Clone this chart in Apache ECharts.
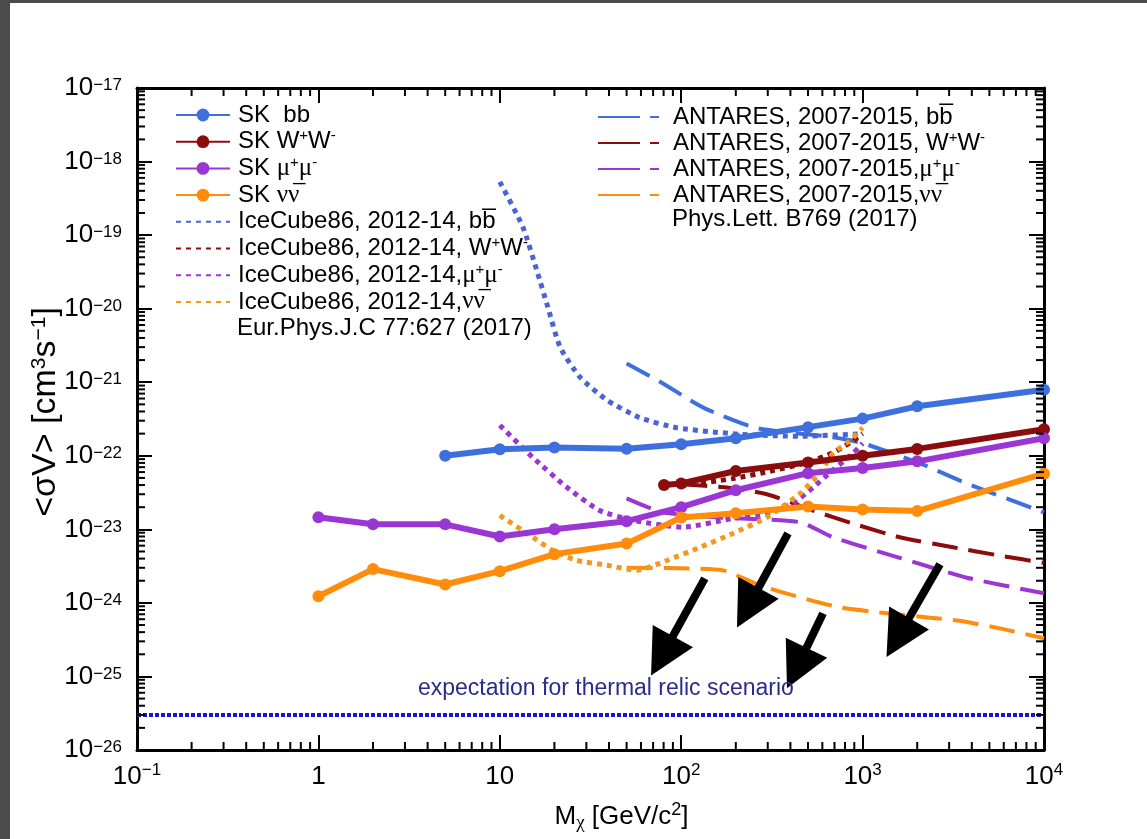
<!DOCTYPE html>
<html>
<head>
<meta charset="utf-8">
<script src="https://cdn.jsdelivr.net/npm/echarts@6/dist/echarts.min.js"></script>
<style>
  html, body { margin: 0; padding: 0; width: 1147px; height: 839px; overflow: hidden; background: #4b4b4b; }
  #chart { position: absolute; left: 10px; top: 3px; width: 1137px; height: 836px; background: #ffffff; }
</style>
</head>
<body>
<div id="chart"></div>
<script>
// Upper limits on the dark-matter annihilation cross section <σV> versus WIMP mass.

const X_MIN = 0.1, X_MAX = 1e4;
// lower bound nudged a hair under 1e-26 so the 10^-26 decade tick is generated
const Y_MIN = 0.99999e-26, Y_MAX = 1e-17;

// Super-Kamiokande (solid lines with markers)
const skBbMass    = [5, 10, 20, 50, 100, 200, 500, 1000, 2000, 10000];
const skBbSigmaV  = [1.0e-22, 1.23e-22, 1.3e-22, 1.25e-22, 1.43e-22, 1.73e-22, 2.45e-22, 3.2e-22, 4.7e-22, 7.9e-22];
const skWwMass    = [80.4, 100, 200, 500, 1000, 2000, 10000];
const skWwSigmaV  = [4.0e-23, 4.2e-23, 6.2e-23, 8.1e-23, 1.0e-22, 1.24e-22, 2.3e-22];
const skMuMass    = [1, 2, 5, 10, 20, 50, 100, 200, 500, 1000, 2000, 10000];
const skMuSigmaV  = [1.46e-23, 1.17e-23, 1.17e-23, 8.0e-24, 1.0e-23, 1.29e-23, 2.0e-23, 3.4e-23, 5.8e-23, 6.8e-23, 8.4e-23, 1.73e-22];
const skNuMass    = [1, 2, 5, 10, 20, 50, 100, 200, 500, 1000, 2000, 10000];
const skNuSigmaV  = [1.23e-24, 2.88e-24, 1.78e-24, 2.7e-24, 4.6e-24, 6.4e-24, 1.45e-23, 1.65e-23, 2.05e-23, 1.86e-23, 1.77e-23, 5.7e-23];

// IceCube86, 2012-14 (dotted lines)
const icBbMass    = [10, 13.4, 16, 18.4, 21.5, 27.7, 39, 59, 95, 211, 452, 1000];
const icBbSigmaV  = [5.3e-19, 1.29e-19, 3.3e-20, 1.05e-20, 3.0e-21, 1.17e-21, 5.7e-22, 3.3e-22, 2.4e-22, 1.96e-22, 1.84e-22, 2.0e-22];
const icWwMass    = [100, 193, 321, 494, 687, 850, 1000];
const icWwSigmaV  = [3.9e-23, 4.9e-23, 6.3e-23, 8.1e-23, 1.1e-22, 1.5e-22, 2.0e-22];
const icMuMass    = [10, 15.2, 23.5, 35.6, 54, 102, 193, 297, 413, 533, 687, 885, 1000];
const icMuSigmaV  = [2.6e-22, 9.5e-23, 3.7e-23, 1.8e-23, 1.33e-23, 1.07e-23, 1.41e-23, 1.65e-23, 2.26e-23, 3.7e-23, 6.4e-23, 1.08e-22, 1.48e-22];
const icNuMass    = [10, 15.2, 19.5, 26.4, 39, 57, 84, 127, 193, 297, 454, 580, 687, 850, 1000];
const icNuSigmaV  = [1.55e-23, 7.8e-24, 5.2e-24, 3.8e-24, 3.25e-24, 2.77e-24, 3.8e-24, 5.7e-24, 8.8e-24, 1.46e-23, 3.1e-23, 5.8e-23, 1.08e-22, 1.6e-22, 2.4e-22];

// ANTARES, 2007-2015 (dashed lines)
const anBbMass    = [50, 79, 112, 144, 262, 687, 1005, 2070, 3760, 10000];
const anBbSigmaV  = [1.8e-21, 9.7e-22, 5.7e-22, 4.1e-22, 2.37e-22, 1.79e-22, 1.48e-22, 7.9e-23, 4.2e-23, 1.7e-23];
const anWwMass    = [100, 179, 297, 533, 885, 1600, 3150, 5700, 10000];
const anWwSigmaV  = [4.1e-23, 3.7e-23, 3.0e-23, 1.8e-23, 1.2e-23, 7.8e-24, 5.7e-24, 4.4e-24, 3.5e-24];
const anMuMass    = [50, 79, 163, 452, 687, 1600, 3760, 10000];
const anMuSigmaV  = [2.64e-23, 1.7e-23, 1.45e-23, 1.25e-23, 7.8e-24, 4.1e-24, 2.2e-24, 1.35e-24];
const anNuMass    = [50, 99, 170, 272, 452, 750, 1250, 2350, 3440, 5700, 10000];
const anNuSigmaV  = [3.0e-24, 2.95e-24, 2.77e-24, 1.73e-24, 1.19e-24, 8.7e-25, 7.4e-25, 6.3e-25, 5.7e-25, 4.5e-25, 3.3e-25];

// Thermal relic expectation
const relicSigmaV = 3.0e-26;

// Annotation arrows: tail and tip in (mass, <σV>) space
const arrowTail = [[135, 2.15e-24], [388, 8.8e-24], [605, 7.2e-25], [2671, 3.34e-24]];
const arrowTip  = [[68.2, 1.03e-25], [203, 4.64e-25], [383, 6.9e-26], [1355, 1.84e-25]];

// Legend entries (series name, rich-text label)
const leftLegendNames  = ['SK bb', 'SK WW', 'SK mumu', 'SK nunu', 'IceCube bb', 'IceCube WW', 'IceCube mumu', 'IceCube nunu'];
const rightLegendNames = ['ANTARES bb', 'ANTARES WW', 'ANTARES mumu', 'ANTARES nunu'];
const legendLabels = {
  'SK bb':        'SK  bb',
  'SK WW':        'SK W{sp|+}W{sp|-}',
  'SK mumu':      'SK {gk|μ}{sp|+}{gk|μ}{sp|-}',
  'SK nunu':      'SK {gk|ν\u03BD\u0305}',
  'IceCube bb':   'IceCube86, 2012-14, bb\u0305',
  'IceCube WW':   'IceCube86, 2012-14, W{sp|+}W{sp|-}',
  'IceCube mumu': 'IceCube86, 2012-14,{gk|μ}{sp|+}{gk|μ}{sp|-}',
  'IceCube nunu': 'IceCube86, 2012-14,{gk|ν\u03BD\u0305}',
  'ANTARES bb':   'ANTARES, 2007-2015, bb\u0305',
  'ANTARES WW':   'ANTARES, 2007-2015, W{sp|+}W{sp|-}',
  'ANTARES mumu': 'ANTARES, 2007-2015,{gk|μ}{sp|+}{gk|μ}{sp|-}',
  'ANTARES nunu': 'ANTARES, 2007-2015,{gk|ν\u03BD\u0305}'
};
const leftCitation  = 'Eur.Phys.J.C 77:627 (2017)';
const rightCitation = 'Phys.Lett. B769 (2017)';
const relicText     = 'expectation for thermal relic scenario';
const yTitle        = '<σV> [cm{sup|3}s{sup|\u22121}]';
const xTitle        = 'M{sub|χ} [GeV/c{sup|2}]';

const FONT  = '"Liberation Sans", Arial, Helvetica, sans-serif';
const SERIF = '"Liberation Serif", "DejaVu Serif", serif';

const BLUE = '#3d6fde', RED = '#8a0c0c', PURPLE = '#9a36d4', ORANGE = '#ff8c0a';
const BLUE_DOT = '#4a63d6', ORANGE_DOT = '#f39a1e';

const zip = (xs, ys) => xs.map((x, i) => [x, ys[i]]);

function skSeries(name, mass, sv, color) {
  return {
    name, type: 'line', data: zip(mass, sv), z: 6,
    symbol: 'circle', symbolSize: 12, showSymbol: true,
    lineStyle: { color, width: 6 }, itemStyle: { color }
  };
}
function dottedSeries(name, mass, sv, color) {
  return {
    name, type: 'line', data: zip(mass, sv), z: 4, smooth: 0.2,
    symbol: 'none', lineStyle: { color, width: 5, type: [5, 5], cap: 'butt' }, itemStyle: { color }
  };
}
function dashedSeries(name, mass, sv, color) {
  return {
    name, type: 'line', data: zip(mass, sv), z: 3, smooth: 0.2,
    symbol: 'none', lineStyle: { color, width: 4, type: [26, 11], cap: 'butt' }, itemStyle: { color }
  };
}

// Log-decade tick label as "10^n" rich text
function decadeLabel(v) {
  const e = Math.round(Math.log10(v));
  if (e === 0) return '1';
  if (e === 1) return '10';
  return '10{sup|' + String(e).replace('-', '\u2212') + '}';
}
const xTickRich = { sup: { fontSize: 17, lineHeight: 12, verticalAlign: 'top', fontFamily: FONT, color: '#000' } };
const yTickRich = { sup: { fontSize: 17, lineHeight: 9, verticalAlign: 'top', fontFamily: FONT, color: '#000' } };

// Minor log ticks (2..9 × 10^k) drawn on all four sides of the frame
const MINOR_LEN = 8;
const minorX = [], minorY = [];
for (let e = -1; e < 4; e++) for (let m = 2; m <= 9; m++) minorX.push(m * Math.pow(10, e));
for (let e = -26; e < -17; e++) for (let m = 2; m <= 9; m++) minorY.push(m * Math.pow(10, e));

const axisCommon = {
  type: 'log', logBase: 10,
  splitLine: { show: false },
  axisLine: { show: true, onZero: false, lineStyle: { color: '#000', width: 3 } },
  axisTick: { show: true, inside: true, length: 15, lineStyle: { color: '#000', width: 2 } },
  minorTick: { show: false }
};

const legendRich = (lh) => ({
  sp: { fontSize: 15, lineHeight: 12, verticalAlign: 'top', fontFamily: FONT, color: '#000' },
  gk: { fontSize: 25, lineHeight: lh, fontFamily: SERIF, color: '#000' }
});
// Line-only legend icons for the dotted and dashed series
const hideMarker = { opacity: 0 };

const chart = echarts.init(document.getElementById('chart'));
chart.setOption({
  animation: false,
  backgroundColor: '#ffffff',
  textStyle: { fontFamily: FONT },
  grid: { left: 127, top: 85, right: 103, bottom: 89, containLabel: false, outerBoundsMode: 'none' },
  xAxis: [
    Object.assign({}, axisCommon, {
      position: 'bottom', min: X_MIN, max: X_MAX, splitNumber: 5,
      axisLabel: {
        margin: 12, fontSize: 26, lineHeight: 30, color: '#000', fontFamily: FONT,
        showMinLabel: true, showMaxLabel: true, hideOverlap: false,
        formatter: decadeLabel, rich: xTickRich
      },
      name: xTitle, nameLocation: 'middle', nameGap: 51, nameMoveOverlap: false,
      nameTextStyle: {
        fontSize: 26, lineHeight: 32, color: '#000', fontFamily: FONT, padding: [0, 0, 0, 62],
        rich: {
          sub: { fontSize: 19, lineHeight: 14, verticalAlign: 'bottom', fontFamily: SERIF, color: '#000' },
          sup: { fontSize: 18, lineHeight: 12, verticalAlign: 'top', fontFamily: FONT, color: '#000' }
        }
      }
    }),
    Object.assign({}, axisCommon, { position: 'top', min: X_MIN, max: X_MAX, splitNumber: 5, axisLabel: { show: false } })
  ],
  yAxis: [
    Object.assign({}, axisCommon, {
      position: 'left', min: Y_MIN, max: Y_MAX, splitNumber: 9,
      axisLabel: {
        margin: 15, fontSize: 26, lineHeight: 22, color: '#000', fontFamily: FONT,
        showMinLabel: true, showMaxLabel: true, hideOverlap: false,
        formatter: decadeLabel, rich: yTickRich
      }
    }),
    Object.assign({}, axisCommon, { position: 'right', min: Y_MIN, max: Y_MAX, splitNumber: 9, axisLabel: { show: false } })
  ],
  legend: [
    {
      data: leftLegendNames.map((n) => (n.startsWith('SK') ? { name: n } : { name: n, itemStyle: hideMarker })),
      left: 165, top: 99, orient: 'vertical', padding: 0,
      itemWidth: 54, itemHeight: 16, itemGap: 0.7, selectedMode: false,
      formatter: (n) => legendLabels[n],
      textStyle: { fontSize: 24, lineHeight: 26, color: '#000', fontFamily: FONT, padding: [0, 0, 0, 3], rich: legendRich(26) }
    },
    {
      data: rightLegendNames.map((n) => ({ name: n, itemStyle: hideMarker, lineStyle: { type: [42, 10] } })),
      left: 587, top: 101, orient: 'vertical', padding: 0,
      itemWidth: 61, itemHeight: 16, itemGap: 0, selectedMode: false,
      formatter: (n) => legendLabels[n],
      textStyle: { fontSize: 24, lineHeight: 26, color: '#000', fontFamily: FONT, padding: [0, 0, 0, 9], rich: legendRich(26) }
    }
  ],
  graphic: [
    { type: 'text', left: 227, top: 313, style: { text: leftCitation, fontSize: 24, fontFamily: FONT, fill: '#000' } },
    { type: 'text', left: 662, top: 204, style: { text: rightCitation, fontSize: 24, fontFamily: FONT, fill: '#000' } },
    { type: 'text', left: 408, top: 674, z: 50, style: { text: relicText, fontSize: 23, fontFamily: FONT, fill: '#2b2b8c' } },
    {
      type: 'text', x: 36, y: 409, rotation: Math.PI / 2,
      style: {
        text: yTitle, fontSize: 34, fontFamily: FONT, fill: '#000', align: 'center', verticalAlign: 'middle',
        rich: { sup: { fontSize: 21, lineHeight: 15, verticalAlign: 'top', fontFamily: FONT, fill: '#000' } }
      }
    }
  ],
  series: [
    dashedSeries('ANTARES bb', anBbMass, anBbSigmaV, BLUE),
    dashedSeries('ANTARES WW', anWwMass, anWwSigmaV, RED),
    dashedSeries('ANTARES mumu', anMuMass, anMuSigmaV, PURPLE),
    dashedSeries('ANTARES nunu', anNuMass, anNuSigmaV, ORANGE),
    dottedSeries('IceCube bb', icBbMass, icBbSigmaV, BLUE_DOT),
    dottedSeries('IceCube WW', icWwMass, icWwSigmaV, RED),
    dottedSeries('IceCube mumu', icMuMass, icMuSigmaV, PURPLE),
    dottedSeries('IceCube nunu', icNuMass, icNuSigmaV, ORANGE_DOT),
    skSeries('SK bb', skBbMass, skBbSigmaV, BLUE),
    skSeries('SK WW', skWwMass, skWwSigmaV, RED),
    skSeries('SK mumu', skMuMass, skMuSigmaV, PURPLE),
    skSeries('SK nunu', skNuMass, skNuSigmaV, ORANGE),
    {
      name: 'thermal relic', type: 'line', z: 7, symbol: 'none',
      data: [[X_MIN, relicSigmaV], [X_MAX, relicSigmaV]],
      lineStyle: { color: '#1616d2', width: 4, type: [4, 2], cap: 'butt' }
    },
    {
      name: 'minor ticks', type: 'custom', coordinateSystem: 'cartesian2d', silent: true, z: 20, clip: false,
      data: minorX.map((v) => [v, Y_MIN, 0]).concat(minorY.map((v) => [X_MIN, v, 1])),
      encode: { x: 0, y: 1 },
      renderItem(params, api) {
        const cs = params.coordSys;
        const p = api.coord([api.value(0), api.value(1)]);
        const st = { stroke: '#000', lineWidth: 2 };
        if (api.value(2) === 0) {
          return { type: 'group', children: [
            { type: 'line', shape: { x1: p[0], y1: cs.y + cs.height, x2: p[0], y2: cs.y + cs.height - MINOR_LEN }, style: st },
            { type: 'line', shape: { x1: p[0], y1: cs.y, x2: p[0], y2: cs.y + MINOR_LEN }, style: st }
          ] };
        }
        return { type: 'group', children: [
          { type: 'line', shape: { x1: cs.x, y1: p[1], x2: cs.x + MINOR_LEN, y2: p[1] }, style: st },
          { type: 'line', shape: { x1: cs.x + cs.width, y1: p[1], x2: cs.x + cs.width - MINOR_LEN, y2: p[1] }, style: st }
        ] };
      }
    },
    {
      name: 'arrows', type: 'custom', coordinateSystem: 'cartesian2d', silent: true, z: 30, clip: false,
      data: arrowTail.map((t, i) => [t[0], t[1], arrowTip[i][0], arrowTip[i][1]]),
      encode: { x: [0, 2], y: [1, 3] },
      renderItem(params, api) {
        const a = api.coord([api.value(0), api.value(1)]);
        const b = api.coord([api.value(2), api.value(3)]);
        const dx = b[0] - a[0], dy = b[1] - a[1];
        const len = Math.hypot(dx, dy), ux = dx / len, uy = dy / len;
        const H = 45, W = 23;
        const bx = b[0] - ux * H, by = b[1] - uy * H;
        return { type: 'group', children: [
          { type: 'line', shape: { x1: a[0], y1: a[1], x2: bx + ux * 3, y2: by + uy * 3 }, style: { stroke: '#000', lineWidth: 8 } },
          { type: 'polygon', shape: { points: [[b[0], b[1]], [bx - uy * W, by + ux * W], [bx + uy * W, by - ux * W]] }, style: { fill: '#000' } }
        ] };
      }
    }
  ]
});
</script>
</body>
</html>
